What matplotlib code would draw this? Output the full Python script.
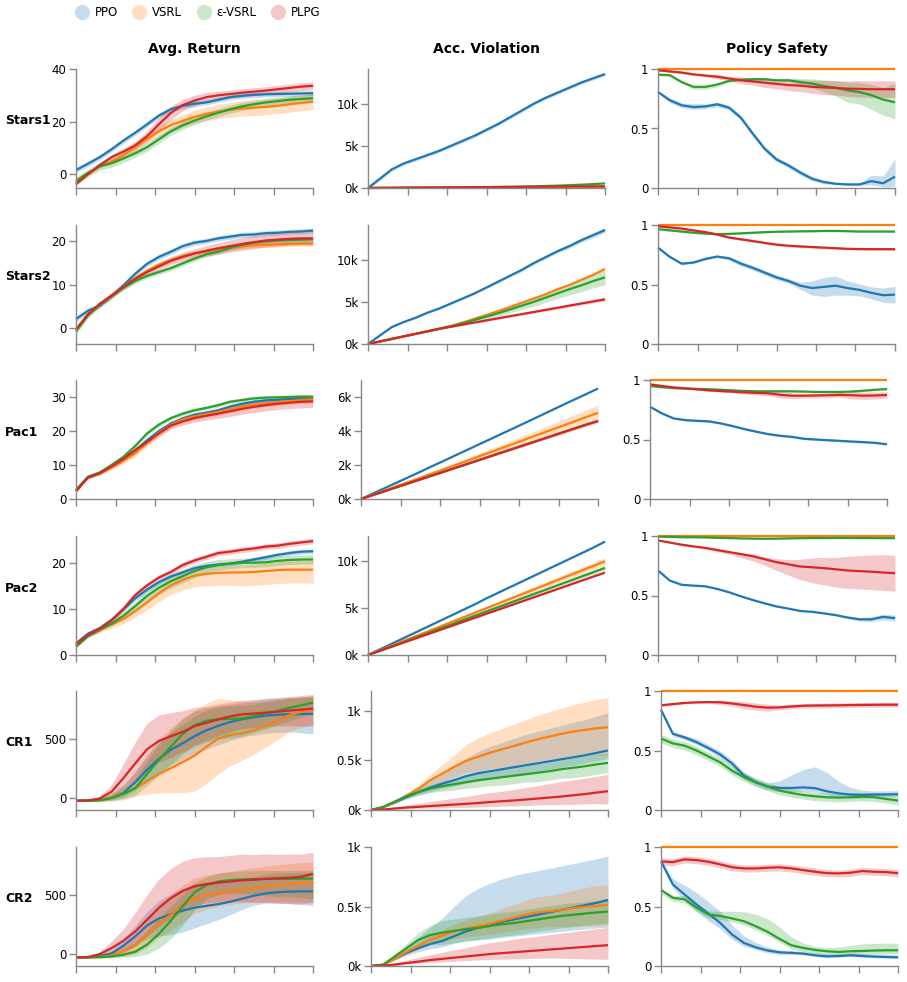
import numpy as np
import matplotlib
matplotlib.use("Agg")
import matplotlib.pyplot as plt
from matplotlib.lines import Line2D
from matplotlib.colors import to_rgba

# ---- data ----
algos = ["PPO", "VSRL", "ε-VSRL", "PLPG"]
colors = ["#1f77b4", "#ff7f0e", "#2ca02c", "#d62728"]
envs = ["Stars1", "Stars2", "Pac1", "Pac2", "CR1", "CR2"]
metrics = ["Avg. Return", "Acc. Violation", "Policy Safety"]
steps = np.linspace(0, 1, 21)  # training progress, 21 samples

always_safe = [1, 1, 1, 1, 1, 1, 1, 1, 1, 1, 1, 1, 1, 1, 1, 1, 1, 1, 1, 1, 1]

# Stars1
stars1_ret = {
    "PPO": [1.6, 4.0, 6.5, 9.5, 12.8, 15.8, 19, 22.3, 24.7, 26, 26.8, 27.3, 28.3, 29.3, 29.8, 30.2, 30.4, 30.5, 30.6, 30.7, 30.8],
    "VSRL": [-3, 0, 3.2, 4.8, 7.3, 10.3, 13.5, 16.3, 18.7, 20.3, 21.8, 23, 23.8, 24.5, 25, 25.3, 25.6, 26.0, 26.6, 27.1, 27.6],
    "ε-VSRL": [-2.5, 0.5, 3, 4.2, 6, 8, 10.3, 13.3, 16.3, 18.6, 20.4, 22, 23.4, 24.7, 25.8, 26.6, 27.3, 27.8, 28.3, 28.6, 28.9],
    "PLPG": [-3.7, 0, 3.5, 6.5, 8.6, 11, 14.5, 19, 23.3, 26.3, 28, 29.3, 30, 30.5, 31, 31.4, 31.8, 32.3, 32.8, 33.3, 33.6],
}
stars1_ret_band = {
    "PPO": 1.0,
    "VSRL": [0.5, 0.5, 0.7, 1, 1.2, 1.5, 1.8, 2, 2.2, 2.4, 2.5, 2.6, 2.7, 2.8, 2.9, 3, 3, 3, 3, 3, 3],
    "ε-VSRL": 1.5,
    "PLPG": [0.5, 0.5, 0.8, 1, 1.2, 1.5, 2, 2.5, 2.5, 2.2, 2, 1.8, 1.5, 1.5, 1.5, 1.5, 1.5, 1.5, 1.5, 1.5, 1.5],
}
stars1_acc = {
    "PPO": [0, 1.1, 2.2, 2.9, 3.4, 3.9, 4.4, 5.0, 5.6, 6.2, 6.9, 7.6, 8.4, 9.2, 10.0, 10.7, 11.3, 11.9, 12.5, 13.0, 13.5],
    "VSRL": [0, 0, .01, .01, .01, .02, .02, .02, .02, .03, .03, .03, .03, .04, .04, .04, .04, .05, .05, .05, .05],
    "ε-VSRL": [0, .01, .02, .03, .04, .05, .06, .07, .08, .09, .1, .12, .14, .17, .2, .24, .28, .33, .39, .46, .55],
    "PLPG": [0, .02, .03, .04, .05, .06, .07, .08, .09, .1, .11, .12, .13, .14, .15, .16, .17, .18, .19, .2, .21],
}
stars1_acc_band = {"PPO": 0.2, "VSRL": 0.03, "ε-VSRL": 0.03, "PLPG": 0.03}
stars1_safe = {
    "PPO": [.807, .737, .695, .68, .686, .703, .675, .59, .456, .33, .24, .19, .13, .078, .05, .036, .03, .03, .058, .04, .095],
    "VSRL": always_safe,
    "ε-VSRL": [.953, .948, .89, .85, .85, .87, .90, .91, .914, .914, .905, .905, .89, .877, .857, .843, .82, .806, .78, .743, .72],
    "PLPG": [.99, .98, .97, .955, .945, .935, .92, .905, .895, .885, .875, .865, .86, .85, .845, .84, .835, .833, .83, .83, .83],
}
stars1_safe_band = {
    "PPO": ([.01, .02, .02, .02, .02, .02, .02, .02, .02, .02, .02, .02, .02, .02, .015, .01, .01, .01, .03, .03, .08],
            [.01, .02, .02, .03, .02, .02, .02, .02, .02, .02, .02, .02, .02, .02, .015, .01, .01, .01, .05, .06, .15]),
    "VSRL": None,
    "ε-VSRL": ([.01, .01, .01, .02, .02, .02, .01, .01, .01, .01, .01, .01, .02, .03, .05, .07, .1, .1, .12, .13, .14],
               [.01, .01, .01, .01, .01, .01, .01, .01, .01, .01, .01, .02, .03, .04, .05, .06, .07, .08, .09, .1, .16]),
    "PLPG": [.01, .01, .01, .01, .01, .02, .02, .03, .03, .04, .04, .045, .05, .055, .06, .06, .065, .07, .07, .07, .07],
}

# Stars2
stars2_ret = {
    "PPO": [2.0, 3.9, 5.1, 7.4, 9.8, 12.5, 14.8, 16.4, 17.6, 18.9, 19.7, 20.1, 20.7, 21.1, 21.5, 21.6, 21.9, 22.0, 22.2, 22.3, 22.5],
    "VSRL": [-0.8, 3.0, 5.5, 7.5, 9.5, 11.5, 13.2, 14.6, 15.7, 16.6, 17.2, 17.7, 18.2, 18.6, 18.9, 19.1, 19.2, 19.3, 19.4, 19.5, 19.5],
    "ε-VSRL": [-0.8, 2.8, 5.3, 7.3, 9.2, 10.8, 12.0, 12.9, 13.8, 14.9, 16.0, 17.0, 17.6, 18.5, 19.2, 19.7, 20.0, 20.2, 20.3, 20.4, 20.5],
    "PLPG": [-0.4, 3.1, 5.5, 7.4, 9.5, 11.3, 12.9, 14.2, 15.5, 16.4, 17.2, 17.8, 18.4, 18.9, 19.4, 19.8, 20.2, 20.4, 20.6, 20.7, 20.7],
}
stars2_ret_band = {
    "PPO": 0.6, "VSRL": 0.6, "ε-VSRL": 0.6,
    "PLPG": [.3, .4, .5, .5, .5, .6, .7, .8, .9, 1, 1.1, 1.2, 1.3, 1.4, 1.5, 1.5, 1.5, 1.5, 1.5, 1.5, 1.5],
}
stars2_acc = {
    "PPO": [0, 1.0, 2.0, 2.6, 3.1, 3.7, 4.2, 4.8, 5.4, 6.0, 6.7, 7.4, 8.1, 8.8, 9.6, 10.3, 11.0, 11.6, 12.3, 12.9, 13.5],
    "VSRL": [0, .3, .6, .9, 1.2, 1.5, 1.8, 2.15, 2.55, 3.0, 3.45, 3.9, 4.4, 4.9, 5.4, 5.9, 6.5, 7.0, 7.6, 8.2, 8.9],
    "ε-VSRL": [0, .3, .6, .9, 1.2, 1.5, 1.8, 2.1, 2.45, 2.85, 3.25, 3.65, 4.1, 4.55, 5.0, 5.5, 6.0, 6.5, 6.95, 7.45, 7.9],
    "PLPG": [0, .3, .6, .9, 1.2, 1.5, 1.8, 2.05, 2.3, 2.55, 2.8, 3.05, 3.3, 3.55, 3.8, 4.05, 4.3, 4.55, 4.8, 5.05, 5.3],
}
stars2_acc_band = {
    "PPO": [0, .05, .1, .1, .1, .1, .1, .1, .1, .1, .15, .15, .15, .2, .2, .2, .2, .25, .25, .3, .3],
    "VSRL": 0.1,
    "ε-VSRL": [0, .02, .04, .06, .08, .1, .12, .15, .2, .25, .3, .35, .4, .45, .5, .55, .6, .7, .75, .8, .9],
    "PLPG": [0, .02, .03, .04, .05, .05, .06, .07, .08, .09, .1, .11, .12, .13, .14, .15, .16, .17, .18, .19, .2],
}
stars2_safe = {
    "PPO": [.81, .732, .675, .685, .715, .735, .72, .675, .64, .6, .56, .53, .49, .47, .48, .49, .47, .455, .43, .41, .415],
    "VSRL": always_safe,
    "ε-VSRL": [.965, .955, .945, .935, .928, .924, .925, .93, .935, .94, .943, .945, .947, .948, .95, .95, .948, .945, .945, .945, .945],
    "PLPG": [.99, .98, .97, .955, .94, .92, .895, .88, .865, .85, .835, .826, .82, .815, .81, .805, .80, .798, .797, .797, .797],
}
stars2_safe_band = {
    "PPO": [.01, .01, .01, .01, .01, .01, .015, .02, .02, .02, .02, .02, .03, .06, .08, .08, .06, .05, .05, .06, .07],
    "VSRL": None, "ε-VSRL": 0.006, "PLPG": 0.01,
}

# Pac1
pac1_ret = {
    "PPO": [2.6, 6.5, 7.6, 9.6, 11.8, 14.3, 17.3, 20.0, 22.2, 23.7, 24.8, 25.4, 26.1, 27.2, 28.0, 28.6, 29.0, 29.2, 29.4, 29.5, 29.5],
    "VSRL": [2.3, 6.3, 7.5, 9.2, 11.2, 13.4, 16.5, 19.5, 21.8, 23.4, 24.3, 25.0, 25.6, 26.4, 27.2, 27.7, 28.1, 28.5, 28.8, 29.1, 29.3],
    "ε-VSRL": [2.6, 6.5, 7.8, 10, 12.4, 15.6, 19.3, 21.9, 23.8, 25.1, 26.1, 26.8, 27.6, 28.6, 29.1, 29.6, 29.8, 29.9, 30.0, 30.1, 30.1],
    "PLPG": [2.3, 6.3, 7.6, 9.6, 11.8, 14.4, 16.8, 19.3, 21.6, 22.8, 23.8, 24.5, 25.1, 25.8, 26.5, 27.1, 27.6, 28.0, 28.3, 28.6, 28.7],
}
pac1_ret_band = {
    "PPO": 0.5,
    "VSRL": [.3, .3, .4, .6, .8, 1, 1.1, 1.1, 1, 1, 1, 1, 1, 1, 1, 1, 1, 1, 1, 1, 1],
    "ε-VSRL": 0.6,
    "PLPG": [.3, .3, .4, .5, .6, .7, .8, .9, 1, 1.1, 1.2, 1.3, 1.4, 1.5, 1.6, 1.7, 1.7, 1.7, 1.7, 1.8, 1.8],
}
pac1_acc = {
    "PPO": [0, .32, .64, .96, 1.28, 1.6, 1.93, 2.25, 2.58, 2.9, 3.23, 3.55, 3.88, 4.2, 4.53, 4.86, 5.19, 5.52, 5.85, 6.17, 6.5],
    "VSRL": [0, .25, .5, .75, 1.0, 1.25, 1.5, 1.75, 2.0, 2.26, 2.52, 2.77, 3.03, 3.28, 3.54, 3.8, 4.05, 4.3, 4.56, 4.82, 5.07],
    "ε-VSRL": [0, .23, .46, .69, .92, 1.15, 1.38, 1.61, 1.84, 2.07, 2.3, 2.54, 2.77, 3.0, 3.23, 3.46, 3.69, 3.92, 4.15, 4.38, 4.6],
    "PLPG": [0, .23, .46, .69, .92, 1.15, 1.38, 1.61, 1.84, 2.07, 2.3, 2.53, 2.76, 2.99, 3.22, 3.45, 3.68, 3.91, 4.14, 4.37, 4.58],
}
pac1_acc_band = {
    "PPO": 0.02,
    "VSRL": [0, .02, .04, .06, .08, .1, .12, .14, .16, .18, .2, .22, .24, .26, .28, .3, .33, .36, .39, .42, .45],
    "ε-VSRL": 0.03,
    "PLPG": [0, .01, .01, .02, .02, .03, .03, .04, .04, .05, .05, .06, .06, .07, .07, .08, .08, .09, .09, .1, .1],
}
pac1_safe = {
    "PPO": [.775, .72, .677, .663, .657, .652, .635, .612, .587, .565, .545, .531, .522, .506, .5, .494, .489, .483, .478, .472, .46],
    "VSRL": always_safe,
    "ε-VSRL": [.95, .94, .932, .928, .925, .922, .918, .912, .908, .905, .905, .905, .905, .903, .9, .9, .9, .903, .91, .918, .924],
    "PLPG": [.963, .95, .938, .93, .921, .913, .907, .902, .896, .892, .888, .875, .868, .868, .87, .872, .875, .872, .868, .87, .874],
}
pac1_safe_band = {
    "PPO": 0.008, "VSRL": None, "ε-VSRL": 0.008,
    "PLPG": [.005, .005, .005, .005, .005, .008, .01, .012, .015, .018, .02, .025, .025, .02, .02, .02, .02, .03, .03, .03, .025],
}

# Pac2
pac2_ret = {
    "PPO": [2.5, 4.6, 5.8, 7.6, 9.9, 12.3, 14.2, 15.8, 17.0, 17.9, 18.8, 19.3, 19.6, 19.8, 20.2, 20.7, 21.2, 21.7, 22.1, 22.4, 22.5],
    "VSRL": [2.0, 4.2, 5.4, 6.6, 7.8, 9.5, 11.4, 13.4, 15.1, 16.3, 17.2, 17.6, 17.8, 17.9, 17.9, 18.0, 18.2, 18.4, 18.5, 18.5, 18.5],
    "ε-VSRL": [1.8, 4.1, 5.5, 6.8, 8.5, 10.6, 12.8, 14.6, 16.0, 17.1, 18.2, 19.0, 19.5, 19.8, 20.0, 20.0, 20.1, 20.4, 20.6, 20.7, 20.7],
    "PLPG": [2.3, 4.4, 5.7, 7.5, 10.0, 13.0, 15.1, 16.8, 18.0, 19.5, 20.5, 21.3, 22.1, 22.4, 22.8, 23.1, 23.5, 23.7, 24.1, 24.4, 24.7],
}
pac2_ret_band = {
    "PPO": 0.5,
    "VSRL": ([.3, .4, .6, .8, 1, 1.3, 1.6, 1.8, 2, 2.2, 2.4, 2.6, 2.7, 2.8, 2.9, 2.9, 2.9, 2.9, 2.9, 2.9, 2.9],
             [.3, .4, .5, .6, .7, .8, .9, 1, 1, 1, 1.1, 1.2, 1.3, 1.5, 1.6, 1.7, 1.8, 1.8, 1.9, 2, 2]),
    "ε-VSRL": [.3, .3, .4, .5, .7, 1, 1.3, 1.5, 1.5, 1.5, 1.4, 1.3, 1.2, 1.1, 1, 1, 1, 1, 1, 1, 1],
    "PLPG": 0.6,
}
pac2_acc = {
    "PPO": [0, .6, 1.2, 1.8, 2.4, 3.0, 3.6, 4.2, 4.8, 5.4, 6.05, 6.65, 7.25, 7.85, 8.45, 9.05, 9.65, 10.25, 10.85, 11.45, 12.1],
    "VSRL": [0, .5, 1, 1.5, 2, 2.5, 3, 3.5, 4, 4.5, 5, 5.5, 6, 6.5, 7, 7.5, 8, 8.5, 9, 9.5, 10],
    "ε-VSRL": [0, .46, .93, 1.39, 1.86, 2.32, 2.79, 3.25, 3.72, 4.18, 4.65, 5.11, 5.58, 6.04, 6.51, 6.97, 7.44, 7.9, 8.37, 8.83, 9.3],
    "PLPG": [0, .44, .88, 1.32, 1.76, 2.2, 2.64, 3.08, 3.52, 3.96, 4.4, 4.84, 5.28, 5.72, 6.16, 6.6, 7.04, 7.48, 7.92, 8.36, 8.8],
}
pac2_acc_band = {
    "PPO": 0.05,
    "VSRL": [0, .02, .04, .06, .08, .1, .12, .14, .16, .18, .2, .22, .24, .26, .28, .3, .32, .34, .36, .38, .4],
    "ε-VSRL": [0, .02, .03, .04, .05, .06, .07, .08, .09, .1, .11, .12, .13, .14, .15, .16, .17, .18, .19, .2, .2],
    "PLPG": 0.05,
}
pac2_safe = {
    "PPO": [.71, .625, .59, .583, .577, .555, .527, .493, .462, .434, .408, .39, .37, .363, .35, .335, .315, .30, .30, .32, .31],
    "VSRL": always_safe,
    "ε-VSRL": [.995, .993, .99, .99, .988, .985, .983, .98, .978, .977, .978, .98, .982, .983, .983, .984, .984, .983, .983, .982, .982],
    "PLPG": [.963, .945, .927, .913, .9, .882, .865, .848, .83, .805, .78, .762, .744, .737, .73, .72, .71, .705, .70, .693, .687],
}
pac2_safe_band = {
    "PPO": [.005, .005, .005, .005, .005, .005, .005, .005, .005, .005, .005, .005, .005, .005, .005, .005, .01, .015, .02, .025, .025],
    "VSRL": None, "ε-VSRL": 0.005,
    "PLPG": ([.005, .005, .01, .01, .01, .015, .02, .03, .04, .05, .07, .09, .11, .13, .14, .15, .15, .15, .15, .15, .15],
             [.005, .005, .005, .005, .01, .01, .01, .01, .02, .02, .03, .04, .06, .08, .09, .1, .12, .13, .14, .15, .15]),
}

# CR1
cr1_ret = {
    "PPO": [-26, -26, -20, -2, 40, 130, 235, 330, 405, 460, 520, 570, 608, 640, 663, 680, 695, 702, 706, 708, 710],
    "VSRL": [-26, -26, -22, 0, 30, 80, 140, 200, 250, 300, 355, 430, 500, 530, 545, 570, 605, 650, 700, 725, 747],
    "ε-VSRL": [-26, -26, -22, -5, 30, 80, 200, 320, 430, 540, 615, 650, 665, 667, 670, 690, 712, 735, 760, 782, 804],
    "PLPG": [-26, -24, -8, 50, 165, 290, 410, 480, 520, 557, 605, 633, 662, 688, 705, 712, 720, 728, 737, 745, 753],
}
cr1_ret_band = {
    "PPO": ([5, 5, 10, 20, 40, 70, 100, 120, 130, 140, 150, 160, 160, 160, 150, 150, 150, 150, 150, 160, 170],
            [5, 5, 10, 30, 60, 90, 120, 140, 150, 160, 170, 170, 160, 150, 140, 140, 140, 140, 140, 140, 140]),
    "VSRL": ([5, 5, 15, 30, 50, 70, 110, 160, 210, 260, 300, 310, 300, 260, 230, 200, 180, 160, 140, 130, 120],
             [5, 5, 15, 40, 80, 140, 220, 300, 340, 370, 380, 370, 340, 300, 270, 240, 210, 180, 150, 130, 110]),
    "ε-VSRL": ([5, 5, 10, 20, 40, 60, 100, 130, 150, 170, 180, 180, 170, 160, 150, 140, 130, 120, 110, 100, 100],
               [5, 5, 10, 30, 50, 80, 110, 130, 140, 130, 120, 110, 110, 110, 110, 100, 100, 90, 80, 70, 60]),
    "PLPG": ([5, 5, 10, 40, 90, 140, 170, 180, 180, 170, 160, 150, 140, 130, 120, 120, 120, 120, 130, 140, 150],
             [5, 5, 20, 60, 120, 180, 220, 220, 200, 180, 160, 140, 130, 120, 120, 120, 120, 120, 120, 120, 120]),
}
cr1_acc = {
    "PPO": [0, .027, .075, .13, .18, .225, .265, .3, .34, .37, .39, .41, .43, .45, .47, .49, .51, .53, .55, .575, .6],
    "VSRL": [0, .027, .078, .146, .214, .3, .366, .434, .495, .536, .576, .61, .644, .678, .712, .739, .766, .79, .807, .824, .834],
    "ε-VSRL": [0, .03, .085, .14, .18, .215, .24, .26, .28, .3, .315, .33, .345, .36, .375, .39, .41, .425, .44, .46, .475],
    "PLPG": [0, .005, .015, .025, .032, .04, .047, .055, .062, .07, .08, .088, .096, .105, .115, .125, .135, .148, .16, .175, .19],
}
cr1_acc_band = {
    "PPO": ([0, .005, .01, .02, .03, .04, .05, .06, .07, .08, .08, .08, .08, .08, .08, .08, .08, .08, .08, .08, .08],
            [0, .005, .01, .02, .04, .07, .1, .14, .18, .22, .25, .27, .29, .31, .32, .33, .34, .35, .36, .37, .38]),
    "VSRL": ([0, .005, .01, .02, .04, .06, .08, .1, .12, .14, .16, .18, .2, .21, .22, .23, .24, .25, .26, .27, .28],
             [0, .005, .01, .02, .04, .06, .09, .12, .16, .19, .2, .21, .22, .23, .24, .25, .26, .27, .28, .29, .3]),
    "ε-VSRL": [0, .005, .01, .02, .03, .04, .05, .06, .06, .07, .07, .08, .08, .08, .09, .09, .09, .1, .1, .1, .1],
    "PLPG": ([0, .003, .008, .012, .016, .02, .025, .03, .035, .04, .045, .05, .055, .06, .065, .07, .08, .09, .1, .11, .13],
             [0, .005, .015, .025, .035, .045, .055, .065, .075, .085, .095, .1, .11, .12, .13, .14, .15, .155, .16, .165, .17]),
}
cr1_safe = {
    "PPO": [.843, .64, .61, .57, .52, .466, .39, .29, .233, .197, .185, .185, .19, .183, .157, .14, .13, .127, .13, .131, .132],
    "VSRL": always_safe,
    "ε-VSRL": [.6, .56, .54, .5, .45, .4, .33, .275, .233, .197, .163, .143, .126, .115, .107, .104, .107, .112, .107, .093, .079],
    "PLPG": [.88, .89, .9, .905, .907, .905, .895, .882, .868, .86, .862, .87, .876, .878, .879, .88, .882, .883, .884, .885, .885],
}
cr1_safe_band = {
    "PPO": ([.01, .02, .02, .02, .02, .03, .03, .03, .03, .03, .03, .03, .03, .03, .03, .03, .03, .03, .02, .02, .02],
            [.01, .02, .02, .03, .03, .03, .03, .03, .03, .03, .06, .11, .15, .18, .16, .1, .06, .04, .03, .03, .03]),
    "VSRL": None, "ε-VSRL": 0.035,
    "PLPG": [.01, .01, .01, .01, .01, .02, .02, .03, .03, .03, .02, .02, .02, .02, .02, .02, .02, .02, .02, .02, .02],
}

# CR2
cr2_ret = {
    "PPO": [-28, -26, -15, 5, 70, 150, 240, 300, 335, 365, 390, 405, 420, 440, 465, 490, 510, 520, 525, 527, 528],
    "VSRL": [-28, -28, -24, -10, 20, 70, 160, 260, 330, 410, 470, 495, 510, 525, 540, 555, 570, 580, 590, 598, 604],
    "ε-VSRL": [-28, -28, -26, -20, -5, 20, 80, 170, 280, 400, 520, 580, 610, 622, 628, 630, 632, 632, 632, 634, 635],
    "PLPG": [-28, -25, 0, 50, 112, 190, 290, 390, 470, 530, 570, 588, 600, 610, 620, 625, 632, 637, 642, 650, 674],
}
cr2_ret_band = {
    "PPO": ([5, 5, 10, 20, 50, 80, 110, 150, 170, 180, 170, 150, 130, 110, 90, 80, 80, 90, 100, 110, 120],
            [5, 5, 10, 30, 60, 90, 120, 150, 170, 190, 200, 200, 190, 180, 170, 160, 160, 160, 160, 160, 160]),
    "VSRL": ([5, 5, 10, 20, 40, 70, 100, 120, 130, 140, 130, 120, 110, 110, 110, 120, 130, 140, 150, 160, 170],
             [5, 5, 10, 30, 60, 90, 130, 160, 170, 170, 170, 170, 170, 170, 170, 170, 170, 170, 170, 170, 170]),
    "ε-VSRL": ([5, 5, 5, 10, 20, 40, 80, 120, 150, 160, 150, 120, 110, 110, 120, 130, 140, 150, 150, 160, 170],
               [5, 5, 10, 20, 50, 80, 120, 130, 120, 100, 80, 70, 70, 70, 70, 70, 70, 70, 70, 70, 70]),
    "PLPG": ([5, 5, 20, 50, 80, 110, 140, 160, 170, 170, 160, 160, 160, 170, 180, 190, 200, 210, 220, 230, 240],
             [5, 5, 20, 60, 100, 160, 210, 240, 250, 250, 240, 230, 220, 220, 220, 210, 210, 200, 200, 190, 180]),
}
cr2_acc = {
    "PPO": [0, .01, .06, .11, .15, .185, .21, .25, .29, .32, .345, .37, .39, .41, .43, .45, .47, .49, .51, .53, .555],
    "VSRL": [0, .01, .06, .12, .17, .22, .255, .29, .315, .335, .355, .38, .405, .43, .45, .46, .47, .485, .497, .505, .514],
    "ε-VSRL": [0, .01, .08, .15, .22, .26, .28, .295, .31, .32, .335, .35, .36, .375, .39, .405, .42, .43, .44, .45, .457],
    "PLPG": [0, .003, .012, .025, .037, .05, .06, .07, .08, .09, .1, .108, .115, .123, .13, .138, .145, .153, .16, .168, .175],
}
cr2_acc_band = {
    "PPO": ([0, .005, .01, .02, .03, .04, .05, .06, .08, .1, .12, .13, .14, .15, .16, .17, .18, .19, .2, .21, .23],
            [0, .005, .02, .05, .09, .14, .19, .25, .3, .33, .35, .36, .37, .37, .37, .37, .37, .37, .37, .37, .37]),
    "VSRL": [0, .005, .01, .02, .03, .04, .05, .06, .07, .08, .09, .1, .11, .12, .13, .13, .14, .15, .16, .17, .17],
    "ε-VSRL": [0, .005, .02, .04, .06, .08, .1, .1, .1, .1, .1, .1, .1, .1, .1, .1, .1, .1, .1, .1, .1],
    "PLPG": ([0, .002, .006, .01, .015, .02, .025, .03, .035, .04, .045, .05, .055, .06, .065, .07, .08, .09, .1, .11, .12],
             [0, .005, .015, .025, .035, .045, .055, .065, .075, .085, .095, .1, .11, .115, .12, .125, .13, .135, .14, .145, .15]),
}
cr2_safe = {
    "PPO": [.88, .685, .6, .517, .44, .362, .264, .194, .157, .13, .115, .11, .104, .09, .081, .084, .09, .084, .079, .076, .073],
    "VSRL": always_safe,
    "ε-VSRL": [.64, .573, .56, .49, .433, .42, .4, .376, .334, .287, .228, .174, .152, .135, .124, .118, .124, .126, .13, .132, .132],
    "PLPG": [.879, .873, .896, .89, .876, .854, .83, .82, .82, .826, .829, .82, .806, .792, .78, .778, .784, .798, .792, .789, .78],
}
cr2_safe_band = {
    "PPO": ([.01, .03, .05, .06, .06, .05, .04, .03, .02, .02, .02, .01, .01, .01, .01, .01, .01, .01, .01, .01, .01],
            [.01, .05, .08, .1, .1, .1, .08, .06, .04, .03, .02, .02, .02, .02, .02, .02, .02, .02, .02, .02, .02]),
    "VSRL": None,
    "ε-VSRL": ([.03, .03, .03, .03, .03, .03, .03, .03, .03, .03, .03, .03, .03, .03, .03, .03, .03, .03, .03, .03, .03],
               [.01, .02, .03, .03, .03, .04, .06, .08, .1, .11, .1, .07, .04, .03, .03, .04, .05, .06, .06, .06, .06]),
    "PLPG": 0.03,
}

panels = [
    [(stars1_ret, stars1_ret_band), (stars1_acc, stars1_acc_band), (stars1_safe, stars1_safe_band)],
    [(stars2_ret, stars2_ret_band), (stars2_acc, stars2_acc_band), (stars2_safe, stars2_safe_band)],
    [(pac1_ret, pac1_ret_band), (pac1_acc, pac1_acc_band), (pac1_safe, pac1_safe_band)],
    [(pac2_ret, pac2_ret_band), (pac2_acc, pac2_acc_band), (pac2_safe, pac2_safe_band)],
    [(cr1_ret, cr1_ret_band), (cr1_acc, cr1_acc_band), (cr1_safe, cr1_safe_band)],
    [(cr2_ret, cr2_ret_band), (cr2_acc, cr2_acc_band), (cr2_safe, cr2_safe_band)],
]

# y axis domain and ticks per row (return, violation in k, safety)
ret_ylim = [(-5.2, 40), (-3.8, 23.8), (0, 35), (0, 25.8), (-105, 903), (-100, 900)]
ret_ticks = [[0, 20, 40], [0, 10, 20], [0, 10, 20, 30], [0, 10, 20], [0, 500], [0, 500]]
acc_ylim = [(0, 14.1), (0, 14.1), (0, 7), (0, 12.7), (0, 1.2), (0, 1.0)]
acc_ticks = [[0, 5, 10], [0, 5, 10], [0, 2, 4, 6], [0, 5, 10], [0, 0.5, 1], [0, 0.5, 1]]

# ---- layout (pixels) ----
W, H = 907, 982
row_top = [69, 225, 380, 536, 691, 847]
ax_h = 119
ax_w = 237
col_left = [[76, 368, 658], [76, 368, 658], [76, 361, 650],
            [76, 368, 658], [76, 371, 661], [76, 371, 661]]

axis_grey = "#888888"

fig = plt.figure(figsize=(W / 100, H / 100), dpi=100)


def make_band(mean, spec):
    m = np.asarray(mean, dtype=float)
    if spec is None:
        return None
    if isinstance(spec, tuple):
        return m - np.asarray(spec[0]), m + np.asarray(spec[1])
    s = np.asarray(spec, dtype=float)
    return m - s, m + s


for r in range(6):
    for c in range(3):
        left = col_left[r][c]
        ax = fig.add_axes([left / W, 1 - (row_top[r] + ax_h) / H, ax_w / W, ax_h / H])
        means, bands = panels[r][c]
        for name, col in zip(algos, colors):
            b = make_band(means[name], bands[name])
            if b is not None:
                ax.fill_between(steps, b[0], b[1], color=col, alpha=0.25, linewidth=0)
        for name, col in zip(algos, colors):
            ax.plot(steps, means[name], color=col, lw=1.6, solid_capstyle="butt",
                    clip_on=False)

        ax.set_xlim(0, 1)
        ax.set_xticks(np.linspace(0, 1, 7))
        ax.set_xticklabels([])
        if c == 0:
            ax.set_ylim(*ret_ylim[r])
            ax.set_yticks(ret_ticks[r])
            ax.set_yticklabels([f"{v:g}" for v in ret_ticks[r]])
        elif c == 1:
            ax.set_ylim(*acc_ylim[r])
            ax.set_yticks(acc_ticks[r])
            ax.set_yticklabels([f"{v:g}k" for v in acc_ticks[r]])
        else:
            ax.set_ylim(0, 1)
            ax.set_yticks([0, 0.5, 1])
            ax.set_yticklabels(["0", "0.5", "1"])

        for s in ["top", "right"]:
            ax.spines[s].set_visible(False)
        for s in ["left", "bottom"]:
            ax.spines[s].set_color(axis_grey)
            ax.spines[s].set_linewidth(1)
        ax.tick_params(axis="both", length=5, width=1, color=axis_grey,
                       labelsize=8.5, labelcolor="black", pad=2)

        if r == 0:
            fig.text((left + ax_w / 2) / W, 1 - 49 / H, metrics[c], ha="center",
                     va="center", fontsize=10, fontweight="bold")
    fig.text(5 / W, 1 - (row_top[r] + 52) / H, envs[r], ha="left", va="center",
             fontsize=9, fontweight="bold")

# legend
handles = [Line2D([], [], marker="o", linestyle="", markersize=11,
                  markerfacecolor=to_rgba(col, 0.25), markeredgewidth=0)
           for col in colors]
fig.legend(handles, algos, loc="upper left", bbox_to_anchor=(70 / W, 1 - 1 / H),
           ncol=4, frameon=False, fontsize=8.5, handletextpad=0.5,
           columnspacing=1.2, handlelength=1.2, borderaxespad=0)

fig.savefig("out.png", dpi=100)
